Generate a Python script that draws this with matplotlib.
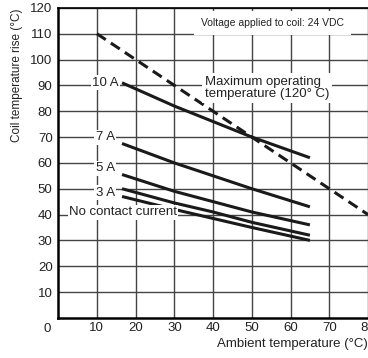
import numpy as np
import matplotlib
matplotlib.use('Agg')
import matplotlib.pyplot as plt

plt.rcParams['font.family'] = ['Liberation Sans', 'DejaVu Sans']

# curve endpoints (ambient temp, coil rise)
curve_x = [16.5, 30, 40, 50, 65]
rise_10A = [91, 82, 76, 70, 62]
rise_7A = [67.5, 60, 55, 50, 43]
rise_5A = [55.5, 49, 45, 41, 36]
rise_3A = [50, 44.5, 41, 37, 32]
rise_none = [47, 42, 38.5, 35, 30]
max_x = [10, 80]
max_y = [110, 40]

labels = ['10 A', '7 A', '5 A', '3 A']
label_y = [91, 70, 58, 48.5]

fig = plt.figure(figsize=(3.68, 3.58), dpi=100)
ax = fig.add_axes([0.158, 0.112, 0.842, 0.866])
ax.set_xlim(0, 80)
ax.set_ylim(0, 120)

ax.set_xticks(range(10, 81, 10))
ax.set_yticks(range(10, 121, 10))
ax.grid(True, color='#444444', lw=1.0, zorder=0)
ax.tick_params(length=0, labelsize=9.5, colors='#222222', pad=4)
ax.tick_params(axis='x', pad=3)
for s in ['left', 'bottom']:
    ax.spines[s].set_linewidth(1.8)
ax.spines['top'].set_linewidth(1.2)
ax.spines['right'].set_visible(False)

for ys in [rise_10A, rise_7A, rise_5A, rise_3A, rise_none]:
    ax.plot(curve_x, ys, color='#1a1a1a', lw=2.2, zorder=3, solid_capstyle='butt')
ax.plot(max_x, max_y, color='#1a1a1a', lw=2.2, ls=(0, (3.5, 2)), zorder=3)

box = dict(facecolor='white', edgecolor='none', pad=1.0)
for lab, yy in zip(labels, label_y):
    ax.text(12.2, yy, lab, ha='center', va='center', fontsize=9.5,
            color='#222222', bbox=box, zorder=4)
ax.text(2.8, 40.8, 'No contact current', ha='left', va='center', fontsize=9.5,
        color='#222222', bbox=box, zorder=4)
ax.text(37.8, 89, 'Maximum operating\ntemperature (120\u00b0 C)', ha='left',
        va='center', fontsize=9.5, color='#222222', linespacing=1.0,
        bbox=dict(facecolor='white', edgecolor='none', pad=2.0), zorder=4)
ax.text(37.0, 114.2, 'Voltage applied to coil: 24 VDC', ha='left', va='center',
        fontsize=7.5, color='#222222',
        bbox=dict(facecolor='white', edgecolor='none', pad=5.0), zorder=4)

ax.text(-0.035, -0.037, '0', transform=ax.transAxes, ha='center', va='center',
        fontsize=9.5, color='#222222')
fig.text(1.0, 0.04, 'Ambient temperature (\u00b0C)', ha='right', va='center',
         fontsize=9.5, color='#222222')
fig.text(0.046, 0.79, 'Coil temperature rise (\u00b0C)', rotation=90,
         ha='center', va='center', fontsize=8.5, color='#222222')

plt.savefig('out.png', dpi=100)
